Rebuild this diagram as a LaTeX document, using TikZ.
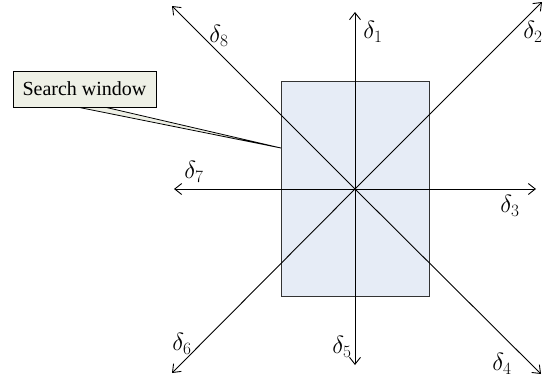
\documentclass[tikz,border=0pt]{standalone}
\usepackage{fontspec}
\setmainfont{Liberation Serif}
\usetikzlibrary{arrows.meta}
\definecolor{winfill}{HTML}{E6ECF6}
\definecolor{callfill}{HTML}{EEF0E6}
\begin{document}
\begin{tikzpicture}[x=1pt,y=-1pt,
  arr/.style={line width=0.9pt,-{Straight Barb[length=7pt,width=11pt,line width=0.9pt]}},
  lab/.style={font=\fontsize{24}{28}\selectfont,inner sep=0pt},
  winbox/.style={draw=black!80,line width=0.7pt,fill=winfill},
  callbox/.style={draw=black,line width=0.8pt,fill=callfill,inner sep=0pt,minimum width=143pt,minimum height=36pt,font=\fontsize{20}{24}\selectfont}]
\useasboundingbox (0,0) rectangle (553,381);
% search window rectangle
\node[winbox,minimum width=148pt,minimum height=215pt,inner sep=0pt] (win) at (355,188.5) {};
\coordinate (o) at (355,189);
\coordinate (e1) at (355,12);
\coordinate (e2) at (542,2);
\coordinate (e3) at (536,189);
\coordinate (e4) at (541,374);
\coordinate (e5) at (355,365);
\coordinate (e6) at (172,373);
\coordinate (e7) at (174,189);
\coordinate (e8) at (172,6);
\foreach \i in {1,...,8} {\draw[arr] (o) -- (e\i);}
% labels
\node[lab] (d1) at (373,32) {$\delta_1$};
\node[lab] (d2) at (533,32) {$\delta_2$};
\node[lab] (d3) at (510,206) {$\delta_3$};
\node[lab] (d4) at (502,364) {$\delta_4$};
\node[lab] (d5) at (342,347) {$\delta_5$};
\node[lab] (d6) at (182,344) {$\delta_6$};
\node[lab] (d7) at (194,172) {$\delta_7$};
\node[lab] (d8) at (219,36) {$\delta_8$};
% callout
\coordinate (tip) at (281,148);
\coordinate (ca) at (72,106);
\coordinate (cb) at (100,106);
\draw[line width=0.8pt,fill=callfill] (ca) -- (tip) -- (cb) -- cycle;
\node[callbox] (sw) at (84.5,89) {Search window};
\end{tikzpicture}
\end{document}
